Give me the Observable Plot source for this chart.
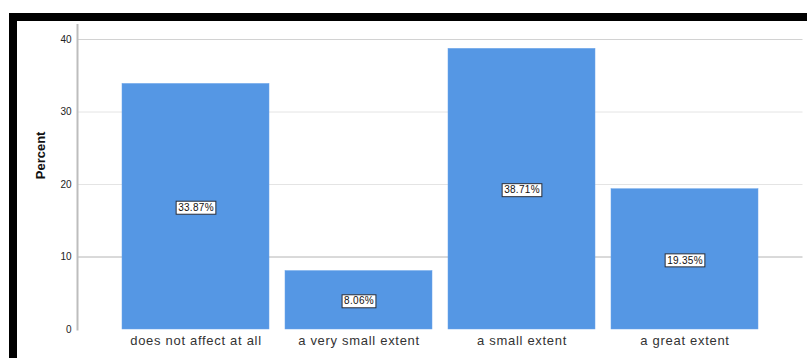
<!DOCTYPE html>
<html>
<head>
<meta charset="utf-8">
<script src="https://cdn.jsdelivr.net/npm/d3@7"></script>
<script src="https://cdn.jsdelivr.net/npm/@observablehq/plot@0.6"></script>
<style>
  html, body { margin: 0; padding: 0; background: #fff; }
  #wrap { position: relative; width: 807px; height: 358px; overflow: hidden; }
  #chart { position: absolute; left: 0; top: 0; }
  .edge { position: absolute; background: #000; }
  #chart svg g[aria-label="x-axis tick label"] text { letter-spacing: 0.7px; }
  #chart svg .vlabels text { letter-spacing: 0.3px; }
</style>
</head>
<body>
<div id="wrap">
  <div id="chart"></div>
  <div class="edge" style="left:9px; top:13px; width:798px; height:8px;"></div>
  <div class="edge" style="left:9px; top:13px; width:8px; height:345px;"></div>
</div>
<script>
const categories = ["does not affect at all", "a very small extent", "a small extent", "a great extent"];
const percents = [33.87, 8.06, 38.71, 19.35];
const labels = ["33.87%", "8.06%", "38.71%", "19.35%"];
const yTicks = [0, 10, 20, 30, 40];
const yLightGrid = [20, 30];
const yTopGrid = [40];
const yRefLine = [10];
const yTitle = "Percent";

const data = categories.map((c, i) => ({cat: c, value: percents[i], label: labels[i]}));

const FONT = "'Liberation Sans', Arial, sans-serif";
const canvas = document.createElement("canvas");
const cctx = canvas.getContext("2d");
cctx.font = `10px ${FONT}`;

function boxedLabels(index, scales, values, dims, context, next) {
  const g = next(index, scales, values, dims, context);
  g.classList.add("vlabels");
  const texts = Array.from(g.querySelectorAll("text"));
  const ns = "http://www.w3.org/2000/svg";
  texts.forEach((t, k) => {
    const i = index[k];
    const X = values.x[i], Y = values.y[i];
    const w = cctx.measureText(data[i].label).width + data[i].label.length * 0.3 + 4;
    const h = 13;
    const r = document.createElementNS(ns, "rect");
    r.setAttribute("x", X - w / 2);
    r.setAttribute("y", Y - h / 2);
    r.setAttribute("width", w);
    r.setAttribute("height", h);
    r.setAttribute("fill", "#fff");
    r.setAttribute("stroke", "#2a2f3a");
    r.setAttribute("stroke-width", 1);
    t.parentNode.insertBefore(r, t);
  });
  return g;
}

const chart = Plot.plot({
  width: 807,
  height: 358,
  marginLeft: 77,
  marginRight: 4.5,
  marginTop: 24.5,
  marginBottom: 29,
  style: {fontFamily: FONT, background: "transparent"},
  x: {domain: categories, paddingInner: 0.1, paddingOuter: 0.275, label: null},
  y: {domain: [0, 42], label: null},
  marks: [
    Plot.ruleY(yLightGrid, {stroke: "#e4e4e4", strokeWidth: 1}),
    Plot.ruleY(yTopGrid, {stroke: "#d2d2d2", strokeWidth: 1}),
    Plot.ruleY(yRefLine, {stroke: "#b4b4b4", strokeWidth: 1}),
    Plot.barY(data, {x: "cat", y: "value", fill: "#5597e4", stroke: "#6aa3ea", strokeWidth: 0.5}),
    Plot.frame({anchor: "left", stroke: "#bdbdbd", strokeWidth: 2}),
    Plot.axisY({ticks: yTicks, tickSize: 0, tickPadding: 6, fontSize: 10, fill: "#222", label: null}),
    Plot.axisX({tickSize: 0, tickPadding: 6, fontSize: 13, fill: "#333", label: null}),
    Plot.text(data, {
      x: "cat",
      y: d => d.value / 2,
      dy: 1,
      text: "label",
      fontSize: 10,
      fill: "#111",
      render: boxedLabels
    }),
    Plot.text([yTitle], {frameAnchor: "left", rotate: -90, dx: -37, dy: 2, fontSize: 13, fontWeight: "bold", fill: "#111"})
  ]
});
document.getElementById("chart").appendChild(chart);
</script>
</body>
</html>
